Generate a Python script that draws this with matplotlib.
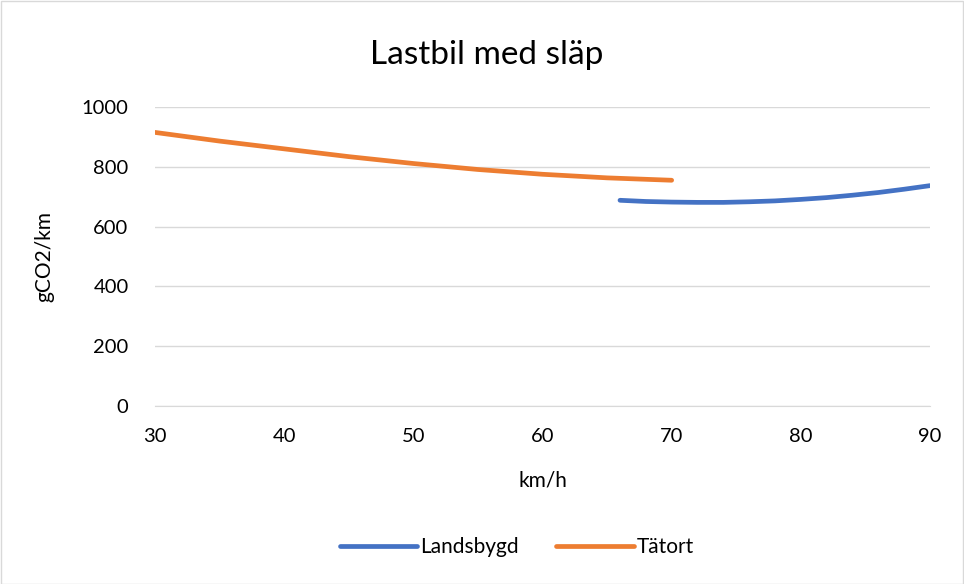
import matplotlib
matplotlib.use("Agg")
import matplotlib.pyplot as plt
from matplotlib.patches import Rectangle

plt.rcParams['font.family'] = ['Lato', 'DejaVu Sans']

# Data
landsbygd_x = [66, 68, 70, 72, 74, 76, 78, 80, 82, 84, 86, 88, 90]
landsbygd_y = [688, 684, 682, 681, 681, 683, 686, 691, 697, 705, 714, 725, 737]
tatort_x = [30, 35, 40, 45, 50, 55, 60, 65, 70]
tatort_y = [915, 886, 860, 834, 811, 791, 775, 763, 755]
x_ticks = [30, 40, 50, 60, 70, 80, 90]
y_ticks = [0, 200, 400, 600, 800, 1000]

fig = plt.figure(figsize=(9.64, 5.84), dpi=100)
ax = fig.add_axes([155/964, 1 - 406/584, (930-155)/964, (406-107)/584])

ax.plot(landsbygd_x, landsbygd_y, color='#4472C4', lw=3.4, solid_capstyle='round', label='Landsbygd')
ax.plot(tatort_x, tatort_y, color='#ED7D31', lw=3.4, solid_capstyle='round', label='Tätort')

ax.set_xlim(30, 90)
ax.set_ylim(0, 1000)
ax.set_xticks(x_ticks)
ax.set_yticks(y_ticks)
ax.grid(axis='y', color='#D9D9D9', lw=1)
ax.set_axisbelow(True)
for s in ['top', 'right', 'left']:
    ax.spines[s].set_visible(False)
ax.spines['bottom'].set_color('#D9D9D9')
ax.tick_params(length=0, labelsize=14.5, colors='#000000')
ax.tick_params(axis='x', pad=16)
ax.tick_params(axis='y', pad=19)

ax.set_xlabel('km/h', fontsize=15, labelpad=18)
ax.set_ylabel('gCO2/km', fontsize=15, labelpad=20)
fig.text(487/964, 1 - 55/584, 'Lastbil med släp', fontsize=24, ha='center', va='center')

leg = fig.legend(loc='center', bbox_to_anchor=(517/964, 1 - 547/584), ncol=2, frameon=False,
                 fontsize=15, handlelength=3.7, handletextpad=0.15, columnspacing=1.8)

fig.patches.append(Rectangle((0.5/964, 0.5/584), 1 - 1.5/964, 1 - 1.5/584, transform=fig.transFigure,
                             fill=False, edgecolor='#D9D9D9', lw=1))

fig.savefig('out.png', dpi=100)
